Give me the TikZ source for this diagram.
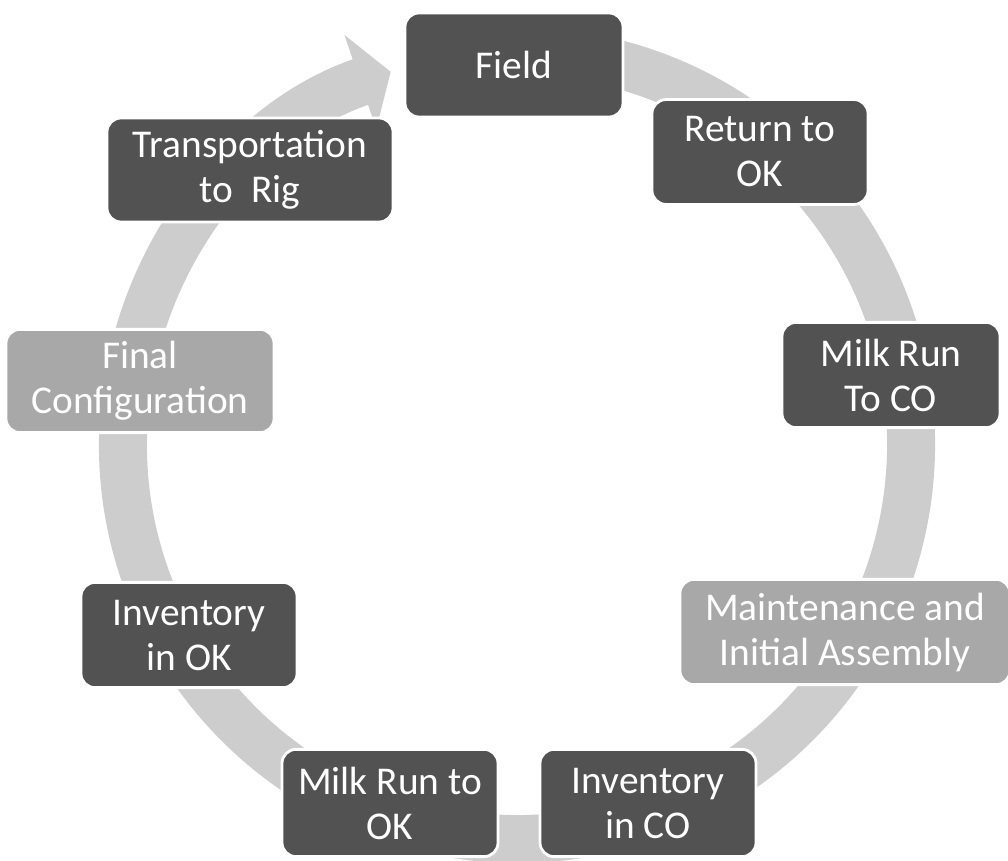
\documentclass[tikz,border=0pt]{standalone}
\usepackage{fontspec}
\setmainfont{Carlito}
\usetikzlibrary{arrows.meta}
\definecolor{stagedark}{RGB}{82,82,82}
\definecolor{stagelight}{RGB}{168,168,168}
\definecolor{ringgray}{RGB}{205,205,205}

\begin{document}
\begin{tikzpicture}[x=0.025cm, y=-0.025cm,
    every node/.style={font=\fontsize{28}{32}\selectfont},
    stage/.style={rectangle, rounded corners=0.35cm, draw=white, line width=2pt,
      fill=stagedark, text=white, align=center, inner sep=0pt},
    lightstage/.style={stage, fill=stagelight}]
    \useasboundingbox (0,0) rectangle (1008,861);
    % Ring of the cycle (clockwise, head ends left of Field)
    \draw[ringgray, line width=1.2cm, -{Triangle[length=0.8cm, width=2.45cm]}]
      (517,445) ++(-80:394) arc[start angle=-80, end angle=251.3, radius=394];
    % Stages
    \node[stage, minimum width=5.45cm, minimum height=2.6cm] (field) at (514,65) {Field};
    \node[stage, minimum width=5.4cm, minimum height=2.62cm] (retok) at (760,152) {Return to\\OK};
    \node[stage, minimum width=5.45cm, minimum height=2.63cm] (mrunco) at (891,375) {Milk Run\\To CO};
    \node[lightstage, minimum width=8.25cm, minimum height=2.63cm] (maint) at (845,632) {Maintenance and\\Initial Assembly};
    \node[stage, minimum width=5.4cm, minimum height=2.68cm] (invco) at (648,803) {Inventory\\in CO};
    \node[stage, minimum width=5.4cm, minimum height=2.68cm] (mrunok) at (390,803) {Milk Run to\\OK};
    \node[stage, minimum width=5.4cm, minimum height=2.63cm] (invok) at (189,635) {Inventory\\in OK};
    \node[lightstage, minimum width=6.7cm, minimum height=2.58cm] (finalcfg) at (140,381) {Final\\Configuration};
    \node[stage, minimum width=7.15cm, minimum height=2.6cm] (transrig) at (250,170) {Transportation\\to~~Rig};
\end{tikzpicture}
\end{document}
